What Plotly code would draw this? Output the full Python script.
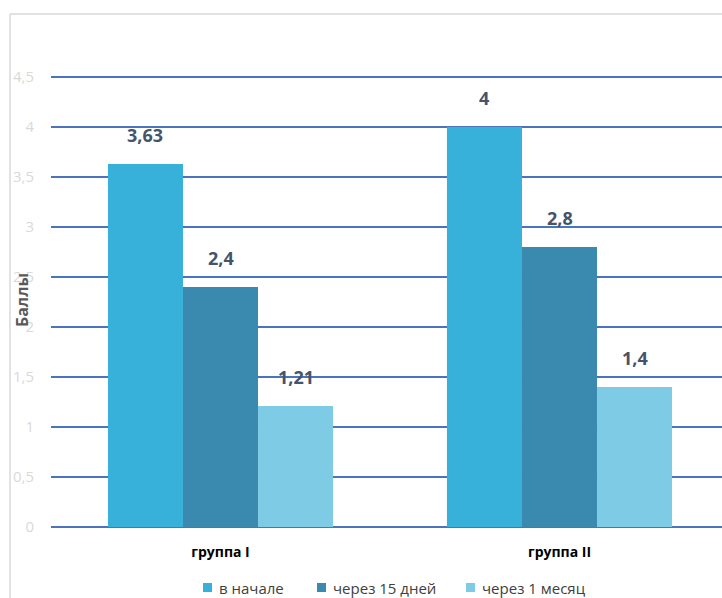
import plotly.graph_objects as go

groups = ["группа I", "группа II"]
series_names = ["в начале", "через 15 дней", "через 1 месяц"]
values = {
    "в начале": [3.63, 4.0],
    "через 15 дней": [2.4, 2.8],
    "через 1 месяц": [1.21, 1.4],
}
colors = ["#38B1DA", "#3A89AF", "#7ECBE6"]
y_ticks = [0, 0.5, 1, 1.5, 2, 2.5, 3, 3.5, 4, 4.5]

W, H = 722, 598
ML, MT, MB = 51, 67, 71
plot_w = W - ML
plot_h = H - MT - MB


def px_x(px):
    return (px - ML) / plot_w


def px_y(py):
    return (H - MB - py) / plot_h


fig = go.Figure()
for name, col in zip(series_names, colors):
    fig.add_trace(go.Bar(
        x=[0, 1], y=values[name], name=name,
        marker=dict(color=col, line=dict(width=0)),
        showlegend=False,
    ))

# value labels above each bar
bar_w = (1 - 0.336) / 3
for i, name in enumerate(series_names):
    for gi, v in enumerate(values[name]):
        fig.add_annotation(
            x=gi + (i - 1) * bar_w, y=v, xref="x", yref="y",
            text=f"{v:g}".replace(".", ","), showarrow=False,
            yshift=29, yanchor="middle",
            font=dict(family="Open Sans", size=18, color="#44546A", weight="bold"),
        )

# axis title
fig.add_annotation(
    x=px_x(22), y=px_y(300), xref="paper", yref="paper",
    text="<b>Баллы</b>", textangle=-90, showarrow=False,
    xanchor="center", yanchor="middle",
    font=dict(family="Open Sans", size=16, color="#595959"),
)

# legend row under the chart
legend_sq = [203, 317, 466]
for name, col, sx in zip(series_names, colors, legend_sq):
    fig.add_shape(type="rect", xref="paper", yref="paper",
                  x0=px_x(sx), x1=px_x(sx + 9), y0=px_y(583), y1=px_y(592),
                  line=dict(width=0), fillcolor=col)
    fig.add_annotation(
        x=px_x(sx + 14), y=px_y(588), xref="paper", yref="paper",
        text=name, showarrow=False, xanchor="left", yanchor="middle",
        font=dict(family="Open Sans", size=15, color="#404040"),
    )

# chart area border (left and top edges)
bx = px_x(10)
by = px_y(14)
fig.add_shape(type="line", xref="paper", yref="paper", x0=bx, x1=bx, y0=by, y1=-0.3,
              line=dict(color="#D9D9D9", width=1.5))
fig.add_shape(type="line", xref="paper", yref="paper", x0=bx, x1=1.2, y0=by, y1=by,
              line=dict(color="#D9D9D9", width=1.5))

fig.update_layout(
    width=W, height=H,
    margin=dict(l=ML, r=0, t=MT, b=MB, pad=0, autoexpand=False),
    paper_bgcolor="white", plot_bgcolor="white",
    separators=", ",
    barmode="group", bargap=0.336, bargroupgap=0,
    showlegend=False,
    xaxis=dict(tickmode="array", tickvals=[0, 1], ticktext=groups,
               range=[-0.5, 1 + (W - 559.5) / 339],
               automargin=False,
               showgrid=False, zeroline=False, showline=False, ticks="",
               ticklabelstandoff=15,
               tickfont=dict(family="Open Sans", size=14, color="#000000", weight="bold")),
    yaxis=dict(range=[0, 4.6], tickmode="array", tickvals=y_ticks,
               automargin=False,
               showgrid=True, gridcolor="#4A73C0", gridwidth=1.5,
               zeroline=True, zerolinecolor="#4A73C0", zerolinewidth=1.5,
               showline=False, ticks="", ticklabelstandoff=16,
               tickfont=dict(family="Open Sans", size=15, color="#D9D9D9")),
)

fig.write_html("out.html")
